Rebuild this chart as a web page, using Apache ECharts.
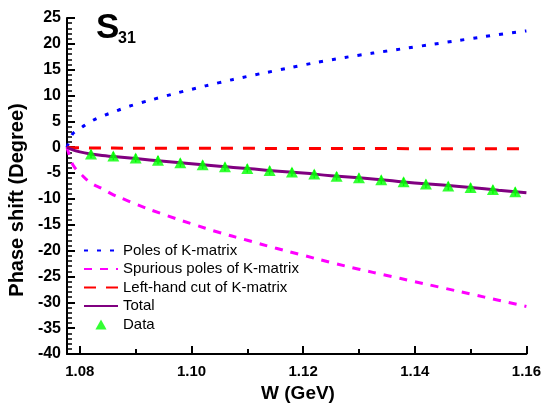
<!DOCTYPE html>
<html>
<head>
<meta charset="utf-8">
<script src="https://cdn.jsdelivr.net/npm/echarts@6/dist/echarts.min.js"></script>
<style>html,body{margin:0;padding:0;background:#fff}.c{width:544px;height:410px}</style>
</head>
<body>
<div class="c" id="main"></div>
<script>
const W = [1.0777, 1.0785, 1.079, 1.080, 1.082, 1.084, 1.086, 1.088, 1.09, 1.095, 1.10, 1.105, 1.11, 1.115, 1.12, 1.125, 1.13, 1.135, 1.14, 1.145, 1.15, 1.155, 1.16];
const poles = [0, 2.2, 2.9, 3.6, 5.0, 6.0, 6.8, 7.6, 8.3, 9.8, 11.2, 12.5, 13.7, 14.8, 15.9, 16.9, 17.8, 18.6, 19.4, 20.2, 21.0, 21.8, 22.5];
const spurious = [0, -2.8, -3.8, -5.0, -6.9, -8.0, -9.2, -10.1, -11.0, -13.0, -14.8, -16.5, -18.0, -19.5, -20.9, -22.3, -23.6, -24.8, -26.0, -27.2, -28.4, -29.6, -30.8];
const leftHand = [0, -0.1, -0.1, -0.1, -0.15, -0.15, -0.15, -0.2, -0.2, -0.2, -0.2, -0.2, -0.2, -0.25, -0.25, -0.25, -0.25, -0.25, -0.3, -0.3, -0.3, -0.3, -0.3];
const total = [0, -0.4, -0.6, -0.9, -1.3, -1.6, -1.8, -2.0, -2.2, -2.7, -3.2, -3.7, -4.1, -4.6, -5.0, -5.5, -5.9, -6.4, -6.9, -7.3, -7.8, -8.3, -8.8];
const dataW = [1.082, 1.086, 1.090, 1.094, 1.098, 1.102, 1.106, 1.110, 1.114, 1.118, 1.122, 1.126, 1.130, 1.134, 1.138, 1.142, 1.146, 1.150, 1.154, 1.158];
const dataY = [-1.3, -1.7, -2.1, -2.5, -3.0, -3.4, -3.8, -4.1, -4.5, -4.8, -5.2, -5.6, -5.9, -6.3, -6.7, -7.1, -7.5, -7.8, -8.2, -8.6];
const dataErr = [0.8, 0.8, 0.8, 0.8, 0.8, 0.8, 0.8, 0.8, 0.8, 0.8, 0.8, 0.8, 0.8, 0.8, 0.8, 0.8, 0.8, 0.8, 0.8, 0.8];
const xMajor = [1.08, 1.10, 1.12, 1.14, 1.16];
const xMinor = [1.09, 1.11, 1.13, 1.15];
const names = ['Poles of K-matrix', 'Spurious poles of K-matrix', 'Left-hand cut of K-matrix', 'Total', 'Data'];

const FF = '"Liberation Sans", Arial, sans-serif';
const pair = (xs, ys) => xs.map((x, i) => [x, ys[i]]);
const noSplit = {show: true, lineStyle: {color: 'rgba(0,0,0,0)', width: 0}};

const chart = echarts.init(document.getElementById('main'));
const option = {
  animation: false,
  grid: {left: 67, right: 15, top: 18, bottom: 56},
  xAxis: [
    {
      type: 'value', min: 1.0777, max: 1.16, position: 'bottom',
      axisLine: {show: true, onZero: false, lineStyle: {color: '#000', width: 2}},
      axisTick: {show: true, inside: true, length: 8, customValues: xMajor, lineStyle: {color: '#000', width: 2}},
      axisLabel: {customValues: xMajor, formatter: v => v.toFixed(2), fontSize: 15, fontWeight: 'bold', color: '#000', fontFamily: FF, margin: 10},
      splitLine: noSplit
    },
    {
      type: 'value', min: 1.0777, max: 1.16, position: 'bottom',
      axisLine: {show: false, onZero: false},
      axisTick: {show: true, inside: true, length: 5, customValues: xMinor, lineStyle: {color: '#000', width: 2}},
      axisLabel: {show: false},
      splitLine: noSplit
    }
  ],
  yAxis: {
    type: 'value', min: -40, max: 25, interval: 5,
    axisLine: {show: true, onZero: false, lineStyle: {color: '#000', width: 2}},
    axisTick: {show: true, inside: true, length: 8, lineStyle: {color: '#000', width: 2}},
    minorTick: {show: true, splitNumber: 5, length: 5, lineStyle: {color: '#000', width: 1.5}},
    axisLabel: {fontSize: 16, fontWeight: 'bold', color: '#000', fontFamily: FF, margin: 6},
    splitLine: noSplit
  },
  legend: {
    orient: 'vertical', left: 83, top: 243, padding: 0,
    itemWidth: 34, itemHeight: 10, itemGap: 3.5,
    symbolKeepAspect: true,
    data: [
      {name: names[0], itemStyle: {opacity: 0}},
      {name: names[1], itemStyle: {opacity: 0}},
      {name: names[2], itemStyle: {opacity: 0}},
      {name: names[3], itemStyle: {opacity: 0}},
      {name: names[4], icon: 'path://M5,0L10,9L0,9Z'}
    ],
    textStyle: {fontSize: 15, color: '#000', fontFamily: FF}
  },
  graphic: [
    {type: 'text', x: 17, y: 200, rotation: Math.PI / 2,
     style: {text: 'Phase shift (Degree)', font: 'bold 20px ' + FF, fill: '#000', align: 'center', verticalAlign: 'middle'}},
    {type: 'text', x: 298, y: 394,
     style: {text: 'W (GeV)', font: 'bold 19px ' + FF, fill: '#000', align: 'center', verticalAlign: 'middle'}},
    {type: 'text', x: 96, y: 11,
     style: {text: 'S', font: 'bold 35px ' + FF, fill: '#000'}},
    {type: 'text', x: 118, y: 31,
     style: {text: '31', font: 'bold 16px ' + FF, fill: '#000'}}
  ],
  series: [
    {name: names[0], type: 'line', data: pair(W, poles), showSymbol: false, symbol: 'none', smooth: true,
     lineStyle: {color: '#0000ff', width: 3, type: [4, 9]}, itemStyle: {color: '#0000ff'}, z: 3},
    {name: names[1], type: 'line', data: pair(W, spurious), showSymbol: false, symbol: 'none', smooth: true,
     lineStyle: {color: '#ff00ff', width: 3, type: [8, 8]}, itemStyle: {color: '#ff00ff'}, z: 3},
    {name: names[2], type: 'line', data: pair(W, leftHand), showSymbol: false, symbol: 'none',
     lineStyle: {color: '#ff0000', width: 3, type: [12, 10]}, itemStyle: {color: '#ff0000'}, z: 3},
    {name: names[3], type: 'line', data: pair(W, total), showSymbol: false, symbol: 'none', smooth: true,
     lineStyle: {color: '#800080', width: 3}, itemStyle: {color: '#800080'}, z: 4},
    {name: 'err', type: 'custom', data: dataW.map((x, i) => [x, dataY[i], dataErr[i]]),
     renderItem: (params, api) => {
       const x = api.value(0), y = api.value(1), e = api.value(2);
       const p1 = api.coord([x, y - e]), p2 = api.coord([x, y + e]);
       return {type: 'line', shape: {x1: p1[0], y1: p1[1], x2: p2[0], y2: p2[1]}, style: {stroke: '#00ff00', lineWidth: 1.5}};
     }, z: 5, silent: true},
    {name: names[4], type: 'scatter', data: pair(dataW, dataY), symbol: 'triangle', symbolSize: [12, 11],
     itemStyle: {color: '#00ff00'}, z: 6}
  ]
};
chart.setOption(option);
</script>
</body>
</html>
